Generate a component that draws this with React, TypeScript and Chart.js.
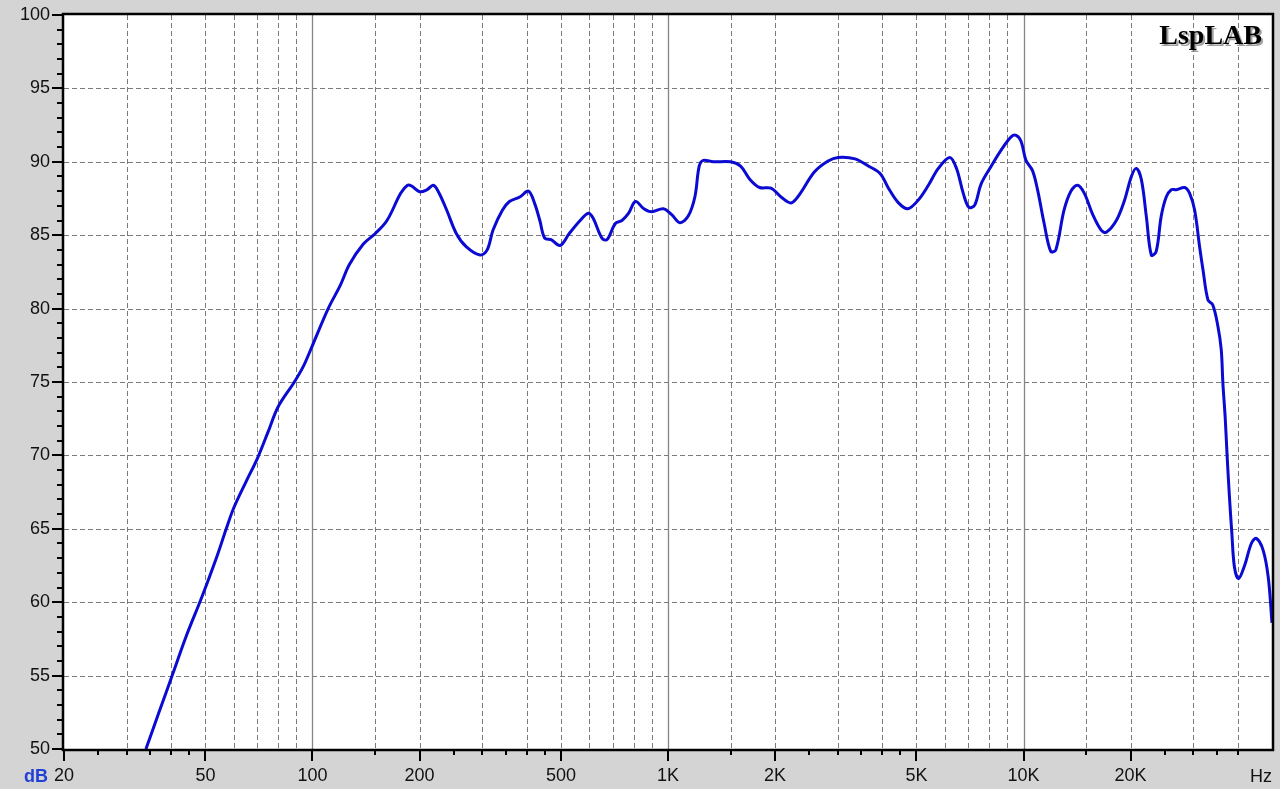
import React, { useEffect, useRef } from 'react';
import { Chart, registerables } from 'chart.js';

Chart.register(...registerables);

// ---- data ----
const freqHz = [
  34, 37, 40.3, 44, 48.2, 50, 54, 57.2, 60, 65, 70, 75, 80, 88.9, 94.4, 100,
  110.7, 119.8, 127, 139, 150, 162, 177, 185, 190, 200, 210, 218.6, 226, 238.6,
  254, 271, 296, 310, 322, 342, 358, 383, 405, 421, 436, 450, 469, 497, 527,
  566, 597, 616, 652, 674, 711, 742, 775, 810, 855, 900, 970, 1024, 1080, 1140,
  1190, 1224, 1257, 1340, 1500, 1600, 1700, 1810, 1950, 2080, 2220, 2340, 2580,
  2820, 3010, 3360, 3670, 3950, 4170, 4450, 4730, 5060, 5400, 5760, 6200, 6480,
  6770, 7020, 7290, 7600, 8110, 8650, 9230, 9530, 9840, 10160, 10600, 10950,
  11430, 11930, 12330, 13000, 13590, 14200, 14830, 15660, 16530, 17090, 18240,
  19250, 20110, 20770, 21450, 22150, 22880, 23620, 24400, 25200, 26040, 26890,
  28400, 29330, 30300, 31290, 32000, 33020, 34080, 35220, 35990, 36380, 36920,
  37400, 37950, 38550, 39200, 40250, 41870, 43740, 45170, 47200, 48800, 50000,
];
const splDb = [
  50.0, 52.5, 55.0, 57.6, 60.0, 61.0, 63.2, 65.0, 66.4, 68.2, 69.8, 71.6, 73.3, 75.0, 76.1, 77.5,
  80.0, 81.6, 83.0, 84.4, 85.1, 86.0, 87.85, 88.4, 88.35, 87.96, 88.1, 88.4, 87.96, 86.7,
  85.1, 84.2, 83.65, 84.0, 85.35, 86.7, 87.3, 87.6, 88.0, 87.2, 86.0, 84.8, 84.7, 84.3, 85.1,
  86.0, 86.5, 86.15, 84.8, 84.7, 85.8, 86.0, 86.5, 87.3, 86.8, 86.6, 86.8, 86.4, 85.85, 86.3,
  87.6, 89.7, 90.1, 90.0, 90.0, 89.7, 88.8, 88.25, 88.2, 87.6, 87.2, 87.75, 89.3,
  90.05, 90.3, 90.2, 89.7, 89.2, 88.2, 87.2, 86.8, 87.4, 88.4, 89.55, 90.3, 89.55,
  87.85, 86.9, 87.05, 88.5, 89.7, 90.8, 91.7, 91.8, 91.4, 90.1, 89.4, 88.1,
  85.8, 83.9, 84.0, 86.7, 88.0, 88.4, 87.85, 86.4, 85.35, 85.2, 86.0,
  87.4, 89.0, 89.55, 88.8, 86.3, 83.65, 83.9, 86.3, 87.6, 88.1, 88.1,
  88.25, 87.85, 86.7, 84.2, 82.6, 80.6, 80.25, 78.8, 77.2, 74.9, 72.6,
  69.9, 67.2, 64.7, 62.4, 61.6, 62.5, 64.0, 64.35, 63.55, 61.7, 58.6,
];

const xGridHz = [
  30, 40, 50, 60, 70, 80, 90, 100, 150, 200, 300, 400, 500, 600, 700, 800, 900,
  1000, 1500, 2000, 3000, 4000, 5000, 6000, 7000, 8000, 9000,
  10000, 15000, 20000, 30000, 40000,
];
const xDecadeHz = [100, 1000, 10000];
const xTickHz = [
  20, 25, 30, 35, 40, 45, 50, 100, 150, 200, 250, 300, 350, 400, 450, 500,
  1000, 1500, 2000, 2500, 3000, 3500, 4000, 4500, 5000,
  10000, 15000, 20000, 25000, 30000, 35000, 40000,
];
const xLabelHz = [20, 50, 100, 200, 500, 1000, 2000, 5000, 10000, 20000];
const xLabelText = ['20', '50', '100', '200', '500', '1K', '2K', '5K', '10K', '20K'];
const yLabelDb = [50, 55, 60, 65, 70, 75, 80, 85, 90, 95, 100];

const X_MIN = 20;
const X_MAX = 50000;
const Y_MIN = 50;
const Y_MAX = 100;

const SANS = "'Liberation Sans', Arial, sans-serif";

const decorPlugin = {
  id: 'decor',
  beforeDraw(chart: any) {
    const { ctx, chartArea: a } = chart;
    ctx.save();
    ctx.fillStyle = '#d4d4d4';
    ctx.fillRect(0, 0, chart.width, chart.height);
    ctx.fillStyle = '#ffffff';
    ctx.fillRect(a.left, a.top, a.right - a.left, a.bottom - a.top);
    ctx.restore();
  },
  beforeDatasetsDraw(chart: any) {
    const { ctx, chartArea: a, scales } = chart;
    const xs = scales.x;
    const ys = scales.y;
    ctx.save();
    ctx.lineWidth = 1;
    ctx.strokeStyle = '#7b7b7b';
    ctx.setLineDash([5, 3]);
    for (const v of yLabelDb) {
      if (v === Y_MIN || v === Y_MAX) continue;
      const y = Math.round(ys.getPixelForValue(v)) + 0.5;
      ctx.beginPath();
      ctx.moveTo(a.left, y);
      ctx.lineTo(a.right, y);
      ctx.stroke();
    }
    for (const f of xGridHz) {
      if (xDecadeHz.includes(f)) continue;
      const x = Math.round(xs.getPixelForValue(f)) + 0.5;
      ctx.beginPath();
      ctx.moveTo(x, a.top);
      ctx.lineTo(x, a.bottom);
      ctx.stroke();
    }
    ctx.setLineDash([]);
    ctx.strokeStyle = '#858585';
    ctx.lineWidth = 1.3;
    for (const f of xDecadeHz) {
      const x = Math.round(xs.getPixelForValue(f)) + 0.5;
      ctx.beginPath();
      ctx.moveTo(x, a.top);
      ctx.lineTo(x, a.bottom);
      ctx.stroke();
    }
    ctx.restore();
  },
  afterDraw(chart: any) {
    const { ctx, chartArea: a, scales } = chart;
    const xs = scales.x;
    const ys = scales.y;
    ctx.save();
    // ticks
    ctx.strokeStyle = '#000';
    ctx.lineWidth = 2;
    for (let v = Y_MIN; v <= Y_MAX; v += 1) {
      const y = Math.round(ys.getPixelForValue(v));
      const len = v % 5 === 0 ? 12 : 7;
      ctx.beginPath();
      ctx.moveTo(a.left - len, y);
      ctx.lineTo(a.left, y);
      ctx.stroke();
    }
    for (const f of xTickHz) {
      const x = Math.round(xs.getPixelForValue(f));
      const len = xLabelHz.includes(f) ? 12 : 6;
      ctx.beginPath();
      ctx.moveTo(x, a.bottom);
      ctx.lineTo(x, a.bottom + len);
      ctx.stroke();
    }
    // frame
    ctx.lineWidth = 2.5;
    ctx.strokeRect(a.left - 1, a.top - 1, a.right - a.left + 2, a.bottom - a.top + 2);

    // axis unit labels
    ctx.fillStyle = '#1f3fd6';
    ctx.font = `bold 18px ${SANS}`;
    ctx.textAlign = 'left';
    ctx.textBaseline = 'alphabetic';
    ctx.fillText('dB', 24, 782);
    ctx.fillStyle = '#111';
    ctx.font = `18px ${SANS}`;
    ctx.textAlign = 'right';
    ctx.fillText('Hz', a.right, 782);

    // brand
    ctx.font = "bold 28px 'Liberation Serif', 'Times New Roman', serif";
    ctx.textAlign = 'right';
    ctx.fillStyle = 'rgba(120,120,120,0.7)';
    ctx.fillText('LspLAB', 1264, 46);
    ctx.fillStyle = '#000';
    ctx.fillText('LspLAB', 1262, 44);
    ctx.restore();
  },
};

export default function App() {
  const canvasRef = useRef<HTMLCanvasElement | null>(null);

  useEffect(() => {
    document.body.style.margin = '0';
    const canvas = canvasRef.current;
    if (!canvas) return;
    const chart = new Chart(canvas, {
      type: 'line',
      data: {
        datasets: [
          {
            data: freqHz.map((f, i) => ({ x: f, y: splDb[i] })),
            borderColor: '#0a0ad2',
            borderWidth: 3,
            pointRadius: 0,
            fill: false,
            tension: 0.35,
          },
        ],
      },
      options: {
        responsive: false,
        animation: false,
        devicePixelRatio: 1,
        layout: { padding: { left: 0, right: 8, top: 15, bottom: 0 } },
        plugins: { legend: { display: false }, tooltip: { enabled: false } },
        scales: {
          x: {
            type: 'logarithmic',
            min: X_MIN,
            max: X_MAX,
            bounds: 'data',
            grid: { display: false, drawTicks: false },
            border: { display: false },
            afterBuildTicks: (scale: any) => {
              scale.ticks = xLabelHz.map((v) => ({ value: v }));
            },
            afterFit: (scale: any) => {
              scale.height = 40;
              scale.paddingLeft = 0;
              scale.paddingRight = 0;
            },
            ticks: {
              autoSkip: false,
              maxRotation: 0,
              minRotation: 0,
              padding: 16,
              color: '#111',
              font: { family: SANS, size: 18 },
              callback: (value: any) => {
                const idx = xLabelHz.indexOf(Number(value));
                return idx >= 0 ? xLabelText[idx] : '';
              },
            },
          },
          y: {
            type: 'linear',
            min: Y_MIN,
            max: Y_MAX,
            grid: { display: false, drawTicks: false },
            border: { display: false },
            afterBuildTicks: (scale: any) => {
              scale.ticks = yLabelDb.map((v) => ({ value: v }));
            },
            afterFit: (scale: any) => {
              scale.width = 64;
              scale.paddingTop = 0;
              scale.paddingBottom = 0;
            },
            ticks: {
              padding: 14,
              color: '#111',
              font: { family: SANS, size: 18 },
              callback: (value: any) => String(value),
            },
          },
        },
      },
      plugins: [decorPlugin],
    } as any);
    return () => chart.destroy();
  }, []);

  return (
    <div style={{ position: 'absolute', left: 0, top: 0, width: 1280, height: 789 }}>
      <canvas ref={canvasRef} width={1280} height={789} style={{ display: 'block' }} />
    </div>
  );
}
